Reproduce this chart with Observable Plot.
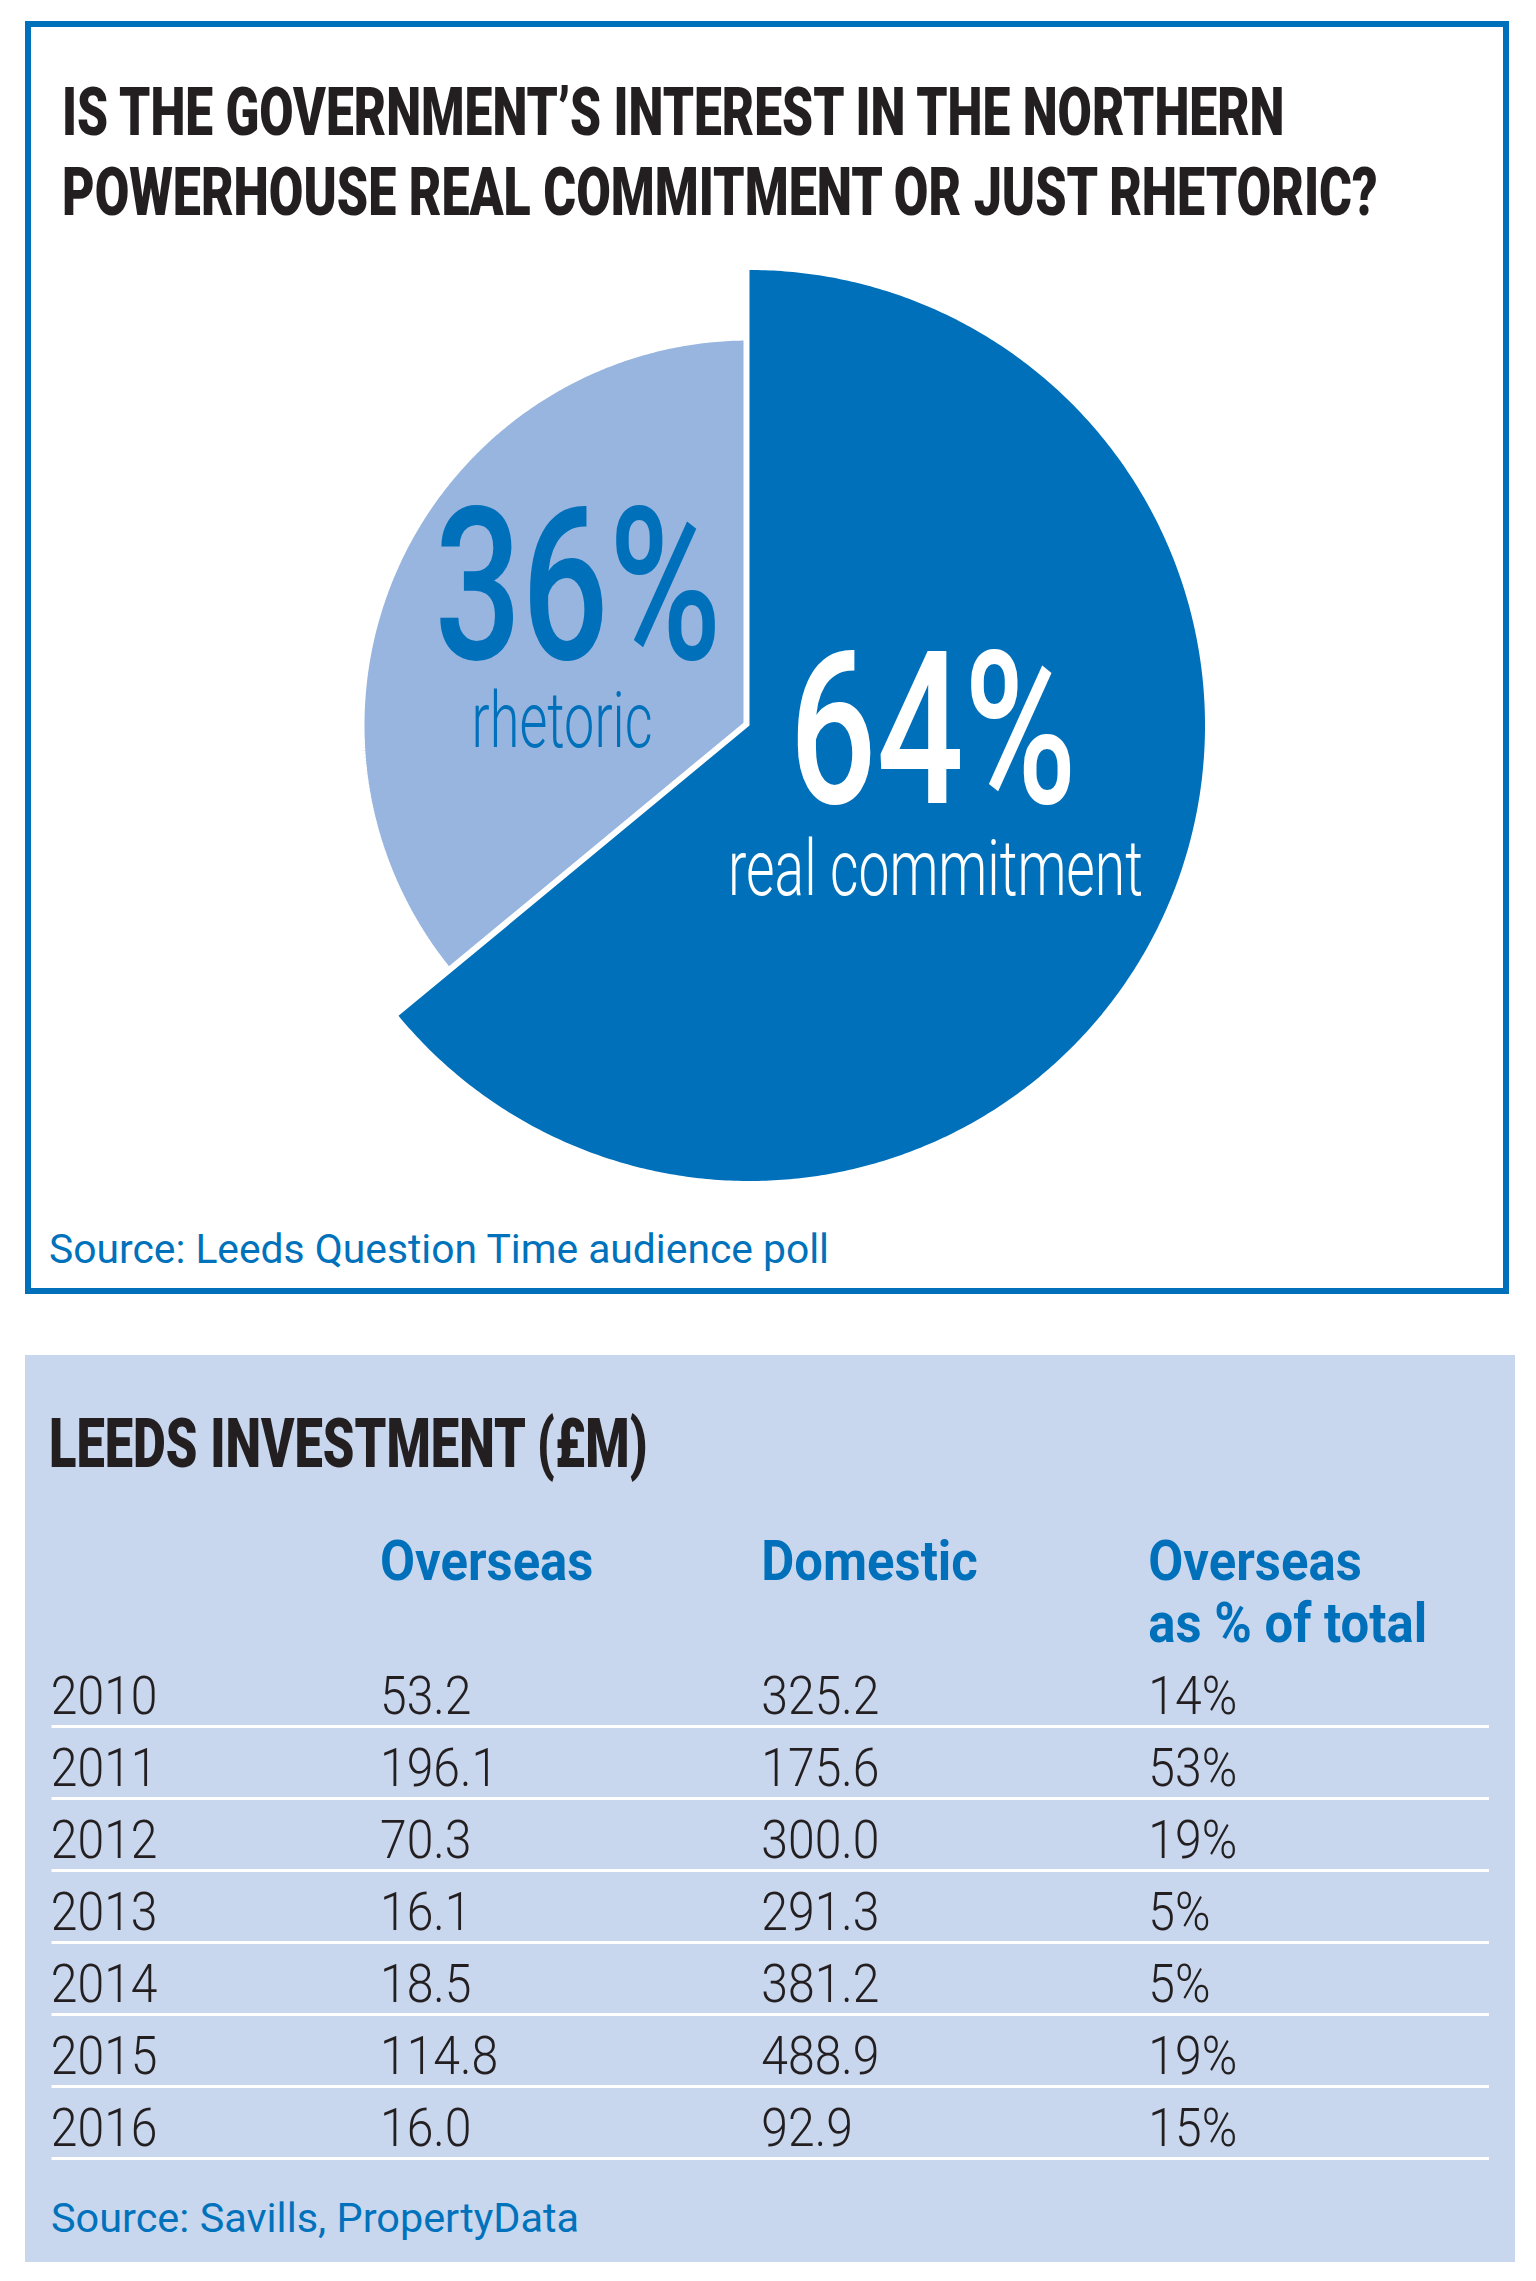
<!DOCTYPE html>
<html>
<head>
<meta charset="utf-8">
<script src="https://cdn.jsdelivr.net/npm/d3@7"></script>
<script src="https://cdn.jsdelivr.net/npm/@observablehq/plot@0.6"></script>
<style>
  html, body { margin: 0; padding: 0; background: #ffffff; }
  #root { position: relative; width: 1536px; height: 2281px; overflow: hidden; background: #ffffff; font-family: Roboto, "Open Sans", sans-serif; }
  .abs { position: absolute; }
</style>
</head>
<body>
<div id="root"></div>
<script>
// ---------------- DATA ----------------
const pieLabels = ["real commitment", "rhetoric"];
const pieValues = [64, 36];

const years = ["2010", "2011", "2012", "2013", "2014", "2015", "2016"];
const overseas = [53.2, 196.1, 70.3, 16.1, 18.5, 114.8, 16.0];
const domestic = [325.2, 175.6, 300.0, 291.3, 381.2, 488.9, 92.9];
const overseasShare = [14, 53, 19, 5, 5, 19, 15];
const columnHeads = ["", "Overseas", "Domestic", "Overseas"];
const columnSubheads = ["", "", "", "as % of total"];

const titleLines = ["IS THE GOVERNMENT\u2019S INTEREST IN THE NORTHERN", "POWERHOUSE REAL COMMITMENT OR JUST RHETORIC?"];
const pieSource = "Source: Leeds Question Time audience poll";
const tableTitle = "LEEDS INVESTMENT (\u00a3M)";
const tableSource = "Source: Savills, PropertyData";

// ---------------- STYLE ----------------
const DARK = "#0070BA";
const LIGHT = "#97B5DE";
const PANEL = "#C8D6EE";
const INK = "#231F20";
const SRC = "#0072BC";
const svgNS = "http://www.w3.org/2000/svg";

const root = document.getElementById("root");

function box(css) {
  const d = document.createElement("div");
  d.className = "abs";
  d.style.cssText += css;
  root.appendChild(d);
  return d;
}

// HTML text placed by baseline, condensed horizontally to a target ink width
function htmlText({text, x, baseline, inkWidth, size, weight, color}) {
  const el = document.createElement("div");
  el.className = "abs";
  el.style.cssText += `left:${x}px;top:0;white-space:nowrap;font-family:Roboto,"Open Sans",sans-serif;font-size:${size}px;font-weight:${weight};color:${color};line-height:1;transform-origin:0 0;`;
  el.appendChild(document.createTextNode(text));
  const marker = document.createElement("span");
  marker.style.cssText = "display:inline-block;width:0;height:0;vertical-align:baseline;";
  el.appendChild(marker);
  root.appendChild(el);
  const r = el.getBoundingClientRect();
  const m = marker.getBoundingClientRect();
  const base = m.top - r.top;
  const k = inkWidth / (r.width - 0.05 * size);
  el.style.top = (baseline - base) + "px";
  el.style.left = (x - 0.025 * size * k) + "px";
  el.style.transform = `scaleX(${k})`;
  return el;
}

// condense an SVG text node horizontally about its anchor
function condense(node, k, anchor) {
  const fs = parseFloat(getComputedStyle(node).fontSize);
  const g = document.createElementNS(svgNS, "g");
  node.parentNode.insertBefore(g, node);
  g.appendChild(node);
  const b = g.getBBox();
  let cx, shift = 0;
  if (anchor === "start") { cx = b.x; shift = -0.025 * fs * k; }
  else if (anchor === "end") { cx = b.x + b.width; }
  else { cx = b.x + b.width / 2; }
  g.setAttribute("transform", `translate(${cx + shift},0) scale(${k},1) translate(${-cx},0)`);
}
function naturalWidth(node) {
  const fs = parseFloat(getComputedStyle(node).fontSize);
  return node.getBBox().width - 0.05 * fs;
}

// ---------------- PANEL 1 : PIE ----------------
box(`left:25px;top:21px;width:1484px;height:1273px;border:6px solid ${DARK};box-sizing:border-box;`);

htmlText({text: titleLines[0], x: 63, baseline: 135, inkWidth: 1220, size: 67.5, weight: 900, color: INK});
htmlText({text: titleLines[1], x: 63, baseline: 215, inkWidth: 1313, size: 67.5, weight: 900, color: INK});

const pieData = pieLabels.map((label, i) => ({label, value: pieValues[i]}));
const arcs = d3.pie().sort(null).value(d => d.value)(pieData);

function arcPoints(a, r) {
  const pts = [{x: 0, y: 0}];
  const n = Math.ceil((a.endAngle - a.startAngle) / (Math.PI / 360));
  for (let j = 0; j <= n; j++) {
    const t = a.startAngle + (a.endAngle - a.startAngle) * j / n;
    pts.push({x: r * Math.sin(t), y: -r * Math.cos(t)});
  }
  return pts;
}
const R_DARK = 455.5, R_LIGHT = 391, R_LABEL = 200;
const labelPos = arcs.map(a => {
  const mid = (a.startAngle + a.endAngle) / 2;
  return {x: R_LABEL * Math.sin(mid), y: -R_LABEL * Math.cos(mid), pct: a.data.value + "%", label: a.data.label};
});

const pie = Plot.plot({
  width: 1000, height: 1000,
  margin: 0,
  x: {domain: [-500, 500], range: [0, 1000], axis: null},
  y: {domain: [-500, 500], range: [0, 1000], axis: null},
  style: {background: "transparent", fontFamily: "Roboto, sans-serif", overflow: "visible"},
  marks: [
    Plot.line(arcPoints(arcs[1], R_LIGHT), {x: "x", y: "y", fill: LIGHT, stroke: "white", strokeWidth: 12, curve: "linear-closed", strokeLinejoin: "miter"}),
    Plot.line(arcPoints(arcs[0], R_DARK), {x: "x", y: "y", fill: DARK, stroke: "none", curve: "linear-closed"}),
    Plot.text([labelPos[1]], {x: "x", y: "y", text: "pct", dx: 9.5, dy: 19, lineAnchor: "bottom", textAnchor: "middle", fontSize: 214, fontWeight: 500, fill: DARK}),
    Plot.text([labelPos[1]], {x: "x", y: "y", text: "label", dx: -6.5, dy: 107, lineAnchor: "bottom", textAnchor: "middle", fontSize: 78, fontWeight: 300, fill: DARK}),
    Plot.text([labelPos[0]], {x: "x", y: "y", text: "pct", dx: 2.5, dy: -8, lineAnchor: "bottom", textAnchor: "middle", fontSize: 214, fontWeight: 500, fill: "white"}),
    Plot.text([labelPos[0]], {x: "x", y: "y", text: "label", dx: 5, dy: 84, lineAnchor: "bottom", textAnchor: "middle", fontSize: 78, fontWeight: 300, fill: "white"})
  ]
});
const pieWrap = box("left:248.5px;top:225px;width:1000px;height:1000px;");
pieWrap.appendChild(pie);
{
  const inkWidths = [279.4, 178.3, 280, 412.4];
  const groups = pie.querySelectorAll("g[aria-label='text']");
  groups.forEach((g, i) => {
    g.querySelectorAll("text").forEach(t => {
      const k = inkWidths[i] / naturalWidth(t);
      condense(t, k, "middle");
    });
  });
}

htmlText({text: pieSource, x: 49.6, baseline: 1263, inkWidth: 778, size: 41, weight: 400, color: SRC});

// ---------------- PANEL 2 : TABLE ----------------
box(`left:25px;top:1355px;width:1490px;height:907px;background:${PANEL};`);

htmlText({text: tableTitle, x: 50, baseline: 1467, inkWidth: 596, size: 68, weight: 900, color: INK});

const cells = [];
years.forEach((y, i) => {
  cells.push({year: y, col: 0, text: y});
  cells.push({year: y, col: 1, text: overseas[i].toFixed(1)});
  cells.push({year: y, col: 2, text: domestic[i].toFixed(1)});
  cells.push({year: y, col: 3, text: overseasShare[i] + "%"});
});
const cols = d3.range(columnHeads.length);
const TABLE_TOP = 1480;

const table = Plot.plot({
  width: 1536, height: 720,
  marginLeft: 51.5, marginRight: 47, marginTop: 0, marginBottom: 0,
  x: {type: "linear", domain: [0, 1, 2, 3], range: [51.5, 380.7, 762, 1149], axis: null},
  y: {type: "point", domain: ["hdr", ...years], range: [159, 667], padding: 0, axis: null},
  style: {background: "transparent", fontFamily: "Roboto, sans-serif", overflow: "visible"},
  marks: [
    Plot.ruleY(years, {y: d => d, dy: 13, stroke: "white", strokeWidth: 3}),
    Plot.text(cells, {x: "col", y: "year", text: "text", textAnchor: "start", lineAnchor: "bottom", fontSize: 53.5, fontWeight: 300, fill: INK}),
    Plot.text(cols, {x: d => d, y: () => "hdr", text: d => columnHeads[d], dy: -61.5, textAnchor: "start", lineAnchor: "bottom", fontSize: 55, fontWeight: 700, fill: DARK}),
    Plot.text(cols, {x: d => d, y: () => "hdr", text: d => columnSubheads[d], textAnchor: "start", lineAnchor: "bottom", fontSize: 55, fontWeight: 700, fill: DARK})
  ]
});
const tableWrap = box(`left:0px;top:${TABLE_TOP}px;width:1536px;height:720px;`);
tableWrap.appendChild(table);
{
  const groups = table.querySelectorAll("g[aria-label='text']");
  const bodyTexts = [...groups[0].querySelectorAll("text")];
  const sample = bodyTexts.find(t => t.textContent === "2016");
  const kBody = 104.3 / naturalWidth(sample);
  bodyTexts.forEach(t => condense(t, kBody, "start"));
  const headTexts = [...groups[1].querySelectorAll("text"), ...groups[2].querySelectorAll("text")].filter(t => t.textContent.trim() !== "");
  const hs = headTexts.find(t => t.textContent === "Overseas");
  const kHead = 211 / naturalWidth(hs);
  headTexts.forEach(t => condense(t, kHead, "start"));
}

htmlText({text: tableSource, x: 51.7, baseline: 2232, inkWidth: 526, size: 41, weight: 400, color: SRC});
</script>
</body>
</html>
